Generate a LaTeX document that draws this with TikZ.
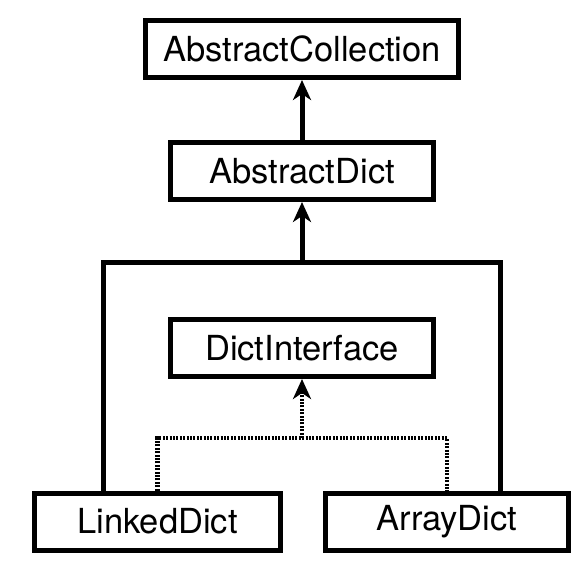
\documentclass[tikz,border=0pt]{standalone}
\usepackage{fontspec}
\setmainfont{TeX Gyre Heros}
\usetikzlibrary{arrows.meta}

\begin{document}
\begin{tikzpicture}[
    x=1pt, y=-1pt,
    cls/.style={draw, line width=5pt, minimum height=57pt, inner sep=0pt,
                font=\fontsize{34.5}{40}\selectfont},
    inherit/.style={line width=5pt, -},
    realize/.style={line width=4.5pt, dash pattern=on 2pt off 1.4pt, -},
    tip/.style={-{Stealth[length=20pt, width=18pt, inset=6pt]}}
]
\useasboundingbox (0,0) rectangle (580,565);

% Define classes
\node[cls, minimum width=313pt] (AbstractCollection) at (302, 49) {AbstractCollection};
\node[cls, minimum width=263pt] (AbstractDict) at (302, 171) {AbstractDict};
\node[cls, minimum width=263pt] (DictInterface) at (302, 348) {DictInterface};
\node[cls, minimum width=246pt] (LinkedDict) at (157.5, 521.5) {LinkedDict};
\node[cls, minimum width=243pt] (ArrayDict) at (447, 521.5) {ArrayDict};

\coordinate (joint) at (302, 262);
\coordinate (dotjoint) at (302, 438);

% Define inheritance
\draw[inherit, tip] (AbstractDict) -- (AbstractCollection);
\draw[inherit] ([xshift=71.5pt]LinkedDict.north west) |- (joint) -| ([xshift=-70.5pt]ArrayDict.north east);
\draw[inherit, tip] (joint) -- (AbstractDict);

% Define realization
\draw[realize] (LinkedDict.north) |- (dotjoint) -| (ArrayDict.north);
\draw[realize, tip] (dotjoint) -- (DictInterface);

\end{tikzpicture}
\end{document}
